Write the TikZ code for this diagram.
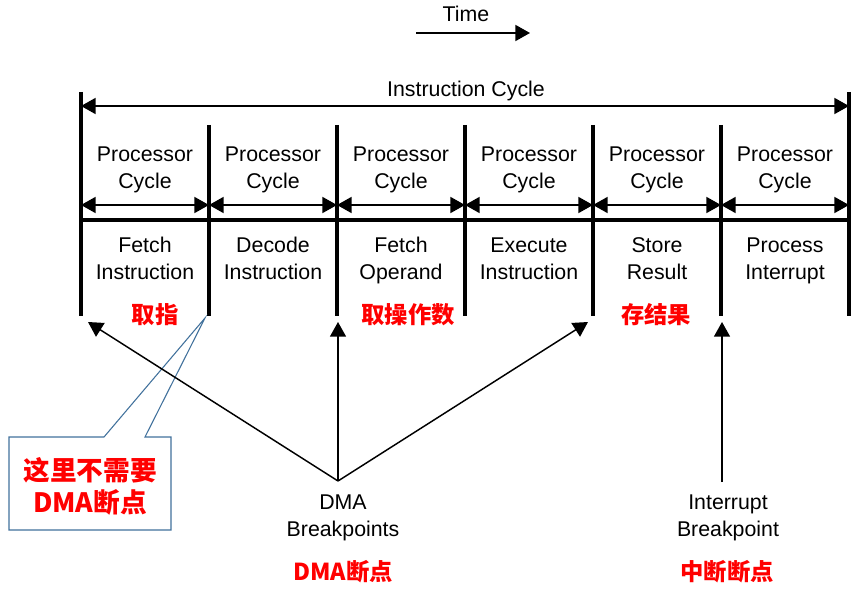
\documentclass[tikz,border=0pt]{standalone}
\usepackage{fontspec}
\setmainfont{Liberation Sans}
\newfontfamily\cjk{Noto Sans CJK SC}
\usetikzlibrary{arrows.meta}
\definecolor{calloutblue}{HTML}{41719C}

\tikzset{
  lbl/.style={font=\fontsize{16}{20.25}\selectfont, align=center, inner sep=0pt, anchor=base},
  cnlbl/.style={font=\cjk\bfseries\fontsize{17.5}{22}\selectfont, text=red, inner sep=0pt},
  bar/.style={line width=2.3pt},
  span/.style={line width=1.4pt, {Triangle[length=11pt,width=12pt]}-{Triangle[length=11pt,width=12pt]}},
  ptr/.style={line width=1.1pt, -{Triangle[length=11pt,width=12pt]}},
}

\begin{document}
\begin{tikzpicture}[x=0.75pt,y=-0.75pt]
	\useasboundingbox (0,0) rectangle (859,595);

	% time direction
	\node[lbl] (time) at (466,22) {Time};
	\coordinate (tl) at (416,33);
	\coordinate (tr) at (530,33);
	\draw[line width=1.4pt, -{Triangle[length=11pt,width=12pt]}] (tl) -- (tr);

	% cycle boundaries
	\foreach \i in {0,...,6} {
		\coordinate (t\i) at ({81+128*\i},125);
		\coordinate (b\i) at ({81+128*\i},316);
	}
	\coordinate (t0) at (81,92);
	\coordinate (t6) at (849,92);
	\foreach \i in {0,...,6}
		\draw[bar] (t\i) -- (b\i);

	% instruction cycle
	\coordinate (il) at (81,106);
	\coordinate (ir) at (849,106);
	\draw[span] (il) -- (ir);
	\node[lbl] (icycle) at (466,97) {Instruction Cycle};

	% separator
	\coordinate (sl) at (81,220);
	\coordinate (sr) at (849,220);
	\draw[bar] (sl) -- (sr);

	% processor cycles and stages
	\foreach \i/\txt in {0/{Fetch\\Instruction}, 1/{Decode\\Instruction}, 2/{Fetch\\Operand},
			3/{Execute\\Instruction}, 4/{Store\\Result}, 5/{Process\\Interrupt}} {
		\coordinate (pl\i) at ({81+128*\i},205);
		\coordinate (pr\i) at ({209+128*\i},205);
		\draw[span] (pl\i) -- (pr\i);
		\node[lbl] (proc\i) at ({145+128*\i},189) {Processor\\Cycle};
		\node[lbl] (stage\i) at ({145+128*\i},279) {\txt};
	}

	\node[cnlbl] (cnfetch) at (155,315) {取指};
	\node[cnlbl] (cnoperand) at (408,315) {取操作数};
	\node[cnlbl] (cnstore) at (656,315) {存结果};

	% callout
	\coordinate (tip) at (205,318);
	\draw[calloutblue, line width=0.8pt, fill=white]
		(9,437) -- (104,437) -- (tip) -- (145,437) -- (171,437) -- (171,530) -- (9,530) -- cycle;
	\node[cnlbl, font=\cjk\bfseries\fontsize{20}{24}\selectfont, align=center] (note) at (90,486)
		{这里不需要\\DMA断点};

	% DMA breakpoints
	\node[lbl] (dma) at (343,536) {DMA\\Breakpoints};
	\coordinate (dmasrc) at (338,481);
	\coordinate (dmaa) at (88,322);
	\coordinate (dmab) at (338,322);
	\coordinate (dmac) at (588,322);
	\draw[ptr] (dmasrc) -- (dmaa);
	\draw[ptr] (dmasrc) -- (dmab);
	\draw[ptr] (dmasrc) -- (dmac);
	\node[cnlbl] (cndma) at (343,572) {DMA断点};

	% interrupt breakpoint
	\node[lbl] (intr) at (728,536) {Interrupt\\Breakpoint};
	\coordinate (intsrc) at (722,482);
	\coordinate (intdst) at (722,322);
	\draw[ptr] (intsrc) -- (intdst);
	\node[cnlbl] (cnint) at (727,572) {中断断点};
\end{tikzpicture}
\end{document}
